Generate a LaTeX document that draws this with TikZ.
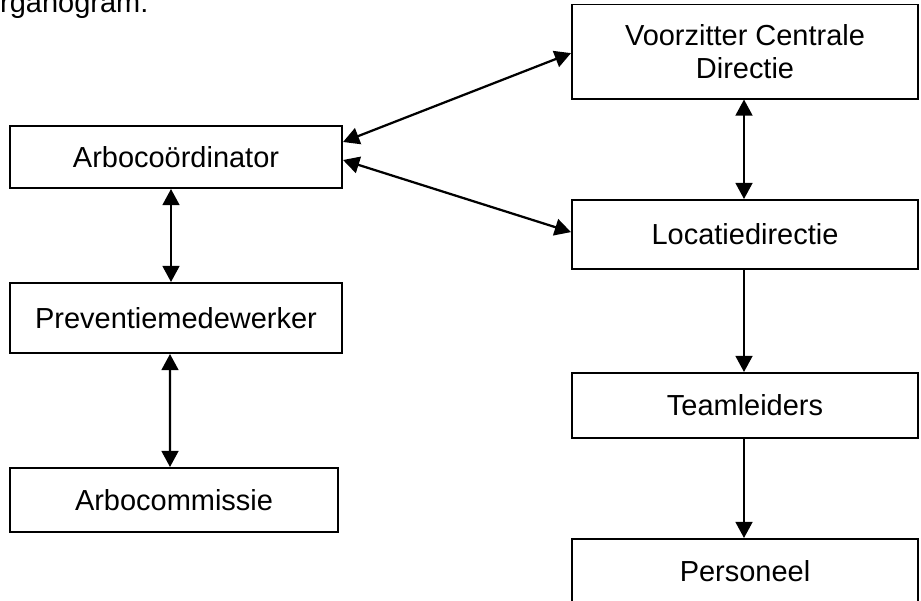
\documentclass[tikz,border=0pt]{standalone}
\usepackage{fontspec}
\setmainfont{Liberation Sans}
\usetikzlibrary{arrows.meta}

\begin{document}
\begin{tikzpicture}[x=0.025cm, y=-0.025cm,
  box/.style     = {rectangle, draw, line width=1.4pt, text centered, minimum width=8.65cm, minimum height=1.6cm, inner sep=0pt, font=\fontsize{20.6}{23.2}\selectfont},
  leftbox/.style = {box, minimum width=8.3cm},
  twoway/.style  = {line width=1.6pt, {Triangle[length=11.5pt,width=12pt]}-{Triangle[length=11.5pt,width=12pt]}},
  oneway/.style  = {line width=1.6pt, -{Triangle[length=11.5pt,width=12pt]}},
  ]
  \useasboundingbox (0,0) rectangle (921,600);
  \node[anchor=base west, inner sep=0pt, font=\fontsize{20.6}{23.2}\selectfont] (title) at (-22.6,12) {Organogram:};
  % left column
  \node[leftbox, minimum height=1.55cm] (arbo) at (176,157) {Arbocoördinator};
  \node[leftbox, minimum height=1.75cm] (prev) at (176,318) {Preventiemedewerker};
  \node[leftbox, minimum width=8.2cm, minimum height=1.6cm] (comm) at (174,500) {Arbocommissie};
  % right column
  \node[box, minimum height=2.35cm, align=center] (vcd) at (745,51.5) {Voorzitter Centrale\\Directie};
  \node[box, minimum height=1.725cm] (loc) at (745,234.5) {Locatiedirectie};
  \node[box, minimum height=1.625cm] (team) at (745,405.5) {Teamleiders};
  \node[box, minimum height=1.6cm] (pers) at (745,571) {Personeel};
  % connections
  \draw[twoway] ([yshift=0.375cm]arbo.east) -- ([yshift=-0.04cm]vcd.west);
  \draw[twoway] ([yshift=-0.075cm]arbo.east) -- ([yshift=0.06cm]loc.west);
  \draw[twoway] ([xshift=-0.125cm]arbo.south) -- ([xshift=-0.125cm]prev.north);
  \draw[twoway] ([xshift=-0.15cm]prev.south) -- ([xshift=-0.1cm]comm.north);
  \draw[twoway] ([xshift=-0.025cm]vcd.south) -- ([xshift=-0.025cm]loc.north);
  \draw[oneway] ([xshift=-0.025cm]loc.south) -- ([xshift=-0.025cm]team.north);
  \draw[oneway] ([xshift=-0.025cm]team.south) -- ([xshift=-0.025cm]pers.north);
\end{tikzpicture}
\end{document}
